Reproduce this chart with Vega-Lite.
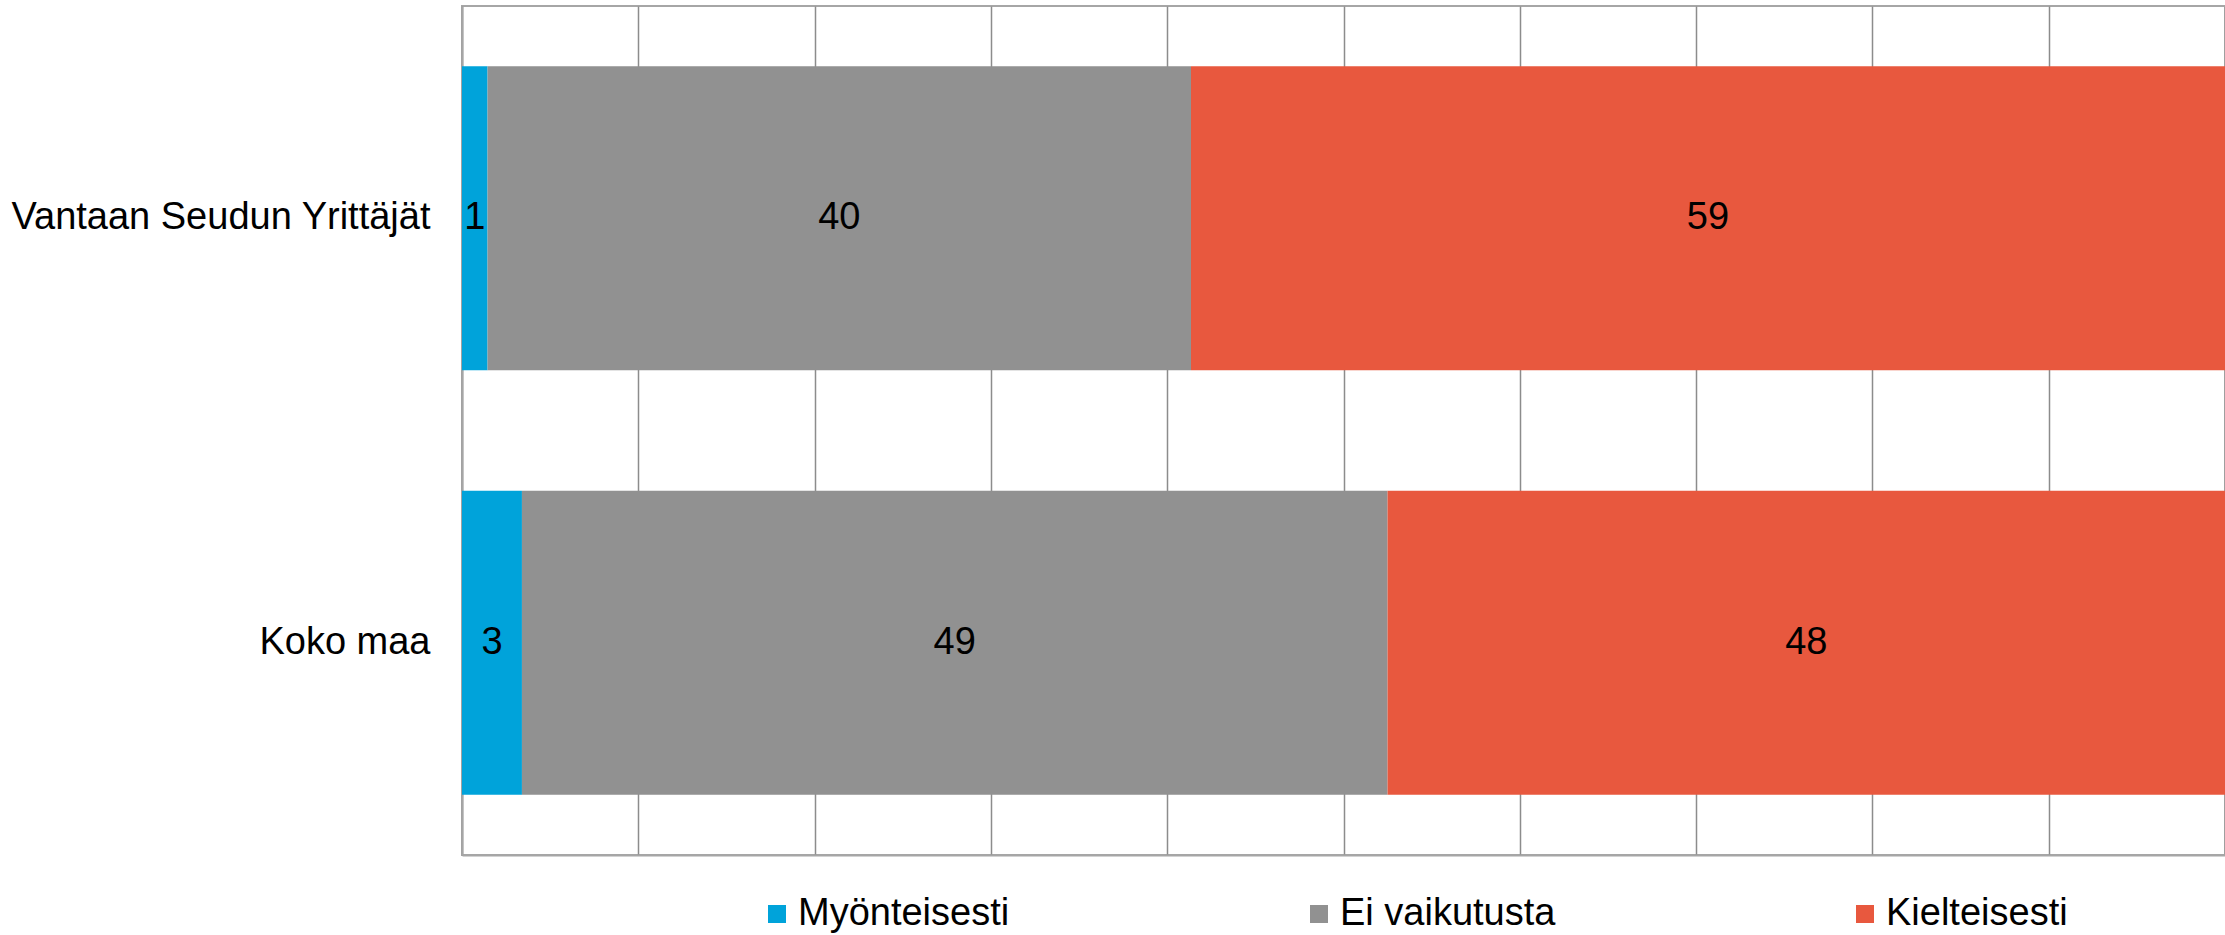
{
  "$schema": "https://vega.github.io/schema/vega-lite/v6.json",
  "autosize": {"type": "none"},
  "padding": {"left": 462, "top": 6, "right": 0, "bottom": 80},
  "width": 1763,
  "height": 849,
  "background": "white",
  "config": {
    "font": "Liberation Sans",
    "view": {"stroke": "#a6a6a6", "strokeWidth": 2},
    "legend": {"padding": 0}
  },
  "data": {
    "values": [
      {"group": "Vantaan Seudun Yrittäjät", "category": "Myönteisesti", "value": 1.45},
      {"group": "Vantaan Seudun Yrittäjät", "category": "Ei vaikutusta", "value": 39.9},
      {"group": "Vantaan Seudun Yrittäjät", "category": "Kielteisesti", "value": 58.65},
      {"group": "Koko maa", "category": "Myönteisesti", "value": 3.4},
      {"group": "Koko maa", "category": "Ei vaikutusta", "value": 49.1},
      {"group": "Koko maa", "category": "Kielteisesti", "value": 47.5}
    ]
  },
  "transform": [
    {"calculate": "indexof(['Myönteisesti', 'Ei vaikutusta', 'Kielteisesti'], datum.category)", "as": "ord"}
  ],
  "encoding": {
    "y": {
      "field": "group",
      "type": "nominal",
      "sort": ["Vantaan Seudun Yrittäjät", "Koko maa"],
      "scale": {"paddingInner": 0.284, "paddingOuter": 0.142},
      "axis": {
        "title": null,
        "ticks": false,
        "domain": true,
        "domainColor": "#a6a6a6",
        "domainWidth": 2,
        "labelFontSize": 38,
        "labelColor": "black",
        "labelPadding": 32,
        "labelLimit": 500
      }
    }
  },
  "layer": [
    {
      "mark": {"type": "bar"},
      "encoding": {
        "x": {
          "field": "value",
          "type": "quantitative",
          "stack": "zero",
          "scale": {"domain": [0, 100], "nice": false},
          "axis": {
            "title": null,
            "values": [0, 10, 20, 30, 40, 50, 60, 70, 80, 90, 100],
            "labels": false,
            "ticks": false,
            "domain": true,
            "domainColor": "#a6a6a6",
            "domainWidth": 2,
            "grid": true,
            "gridColor": "#8c8c8c",
            "gridWidth": 1.5
          }
        },
        "order": {"field": "ord", "type": "quantitative", "sort": "ascending"},
        "color": {
          "field": "category",
          "type": "nominal",
          "scale": {
            "domain": ["Myönteisesti", "Ei vaikutusta", "Kielteisesti"],
            "range": ["#00A3DA", "#919191", "#E8583E"]
          },
          "legend": {
            "title": null,
            "orient": "none",
            "direction": "horizontal",
            "columns": 3,
            "legendX": 296,
            "legendY": 889,
            "symbolType": "square",
            "symbolSize": 324,
            "symbolStrokeWidth": 0,
            "symbolOpacity": 1,
            "labelFontSize": 38,
            "labelColor": "black",
            "labelOffset": 2,
            "labelLimit": 400,
            "columnPadding": 290
          }
        }
      }
    },
    {
      "mark": {"type": "text", "fontSize": 38, "align": "center", "baseline": "middle", "color": "black"},
      "encoding": {
        "x": {
          "field": "value",
          "type": "quantitative",
          "stack": "zero",
          "bandPosition": 0.5
        },
        "order": {"field": "ord", "type": "quantitative", "sort": "ascending"},
        "detail": {"field": "category", "type": "nominal"},
        "text": {"field": "value", "type": "quantitative", "format": ".0f"}
      }
    }
  ]
}
